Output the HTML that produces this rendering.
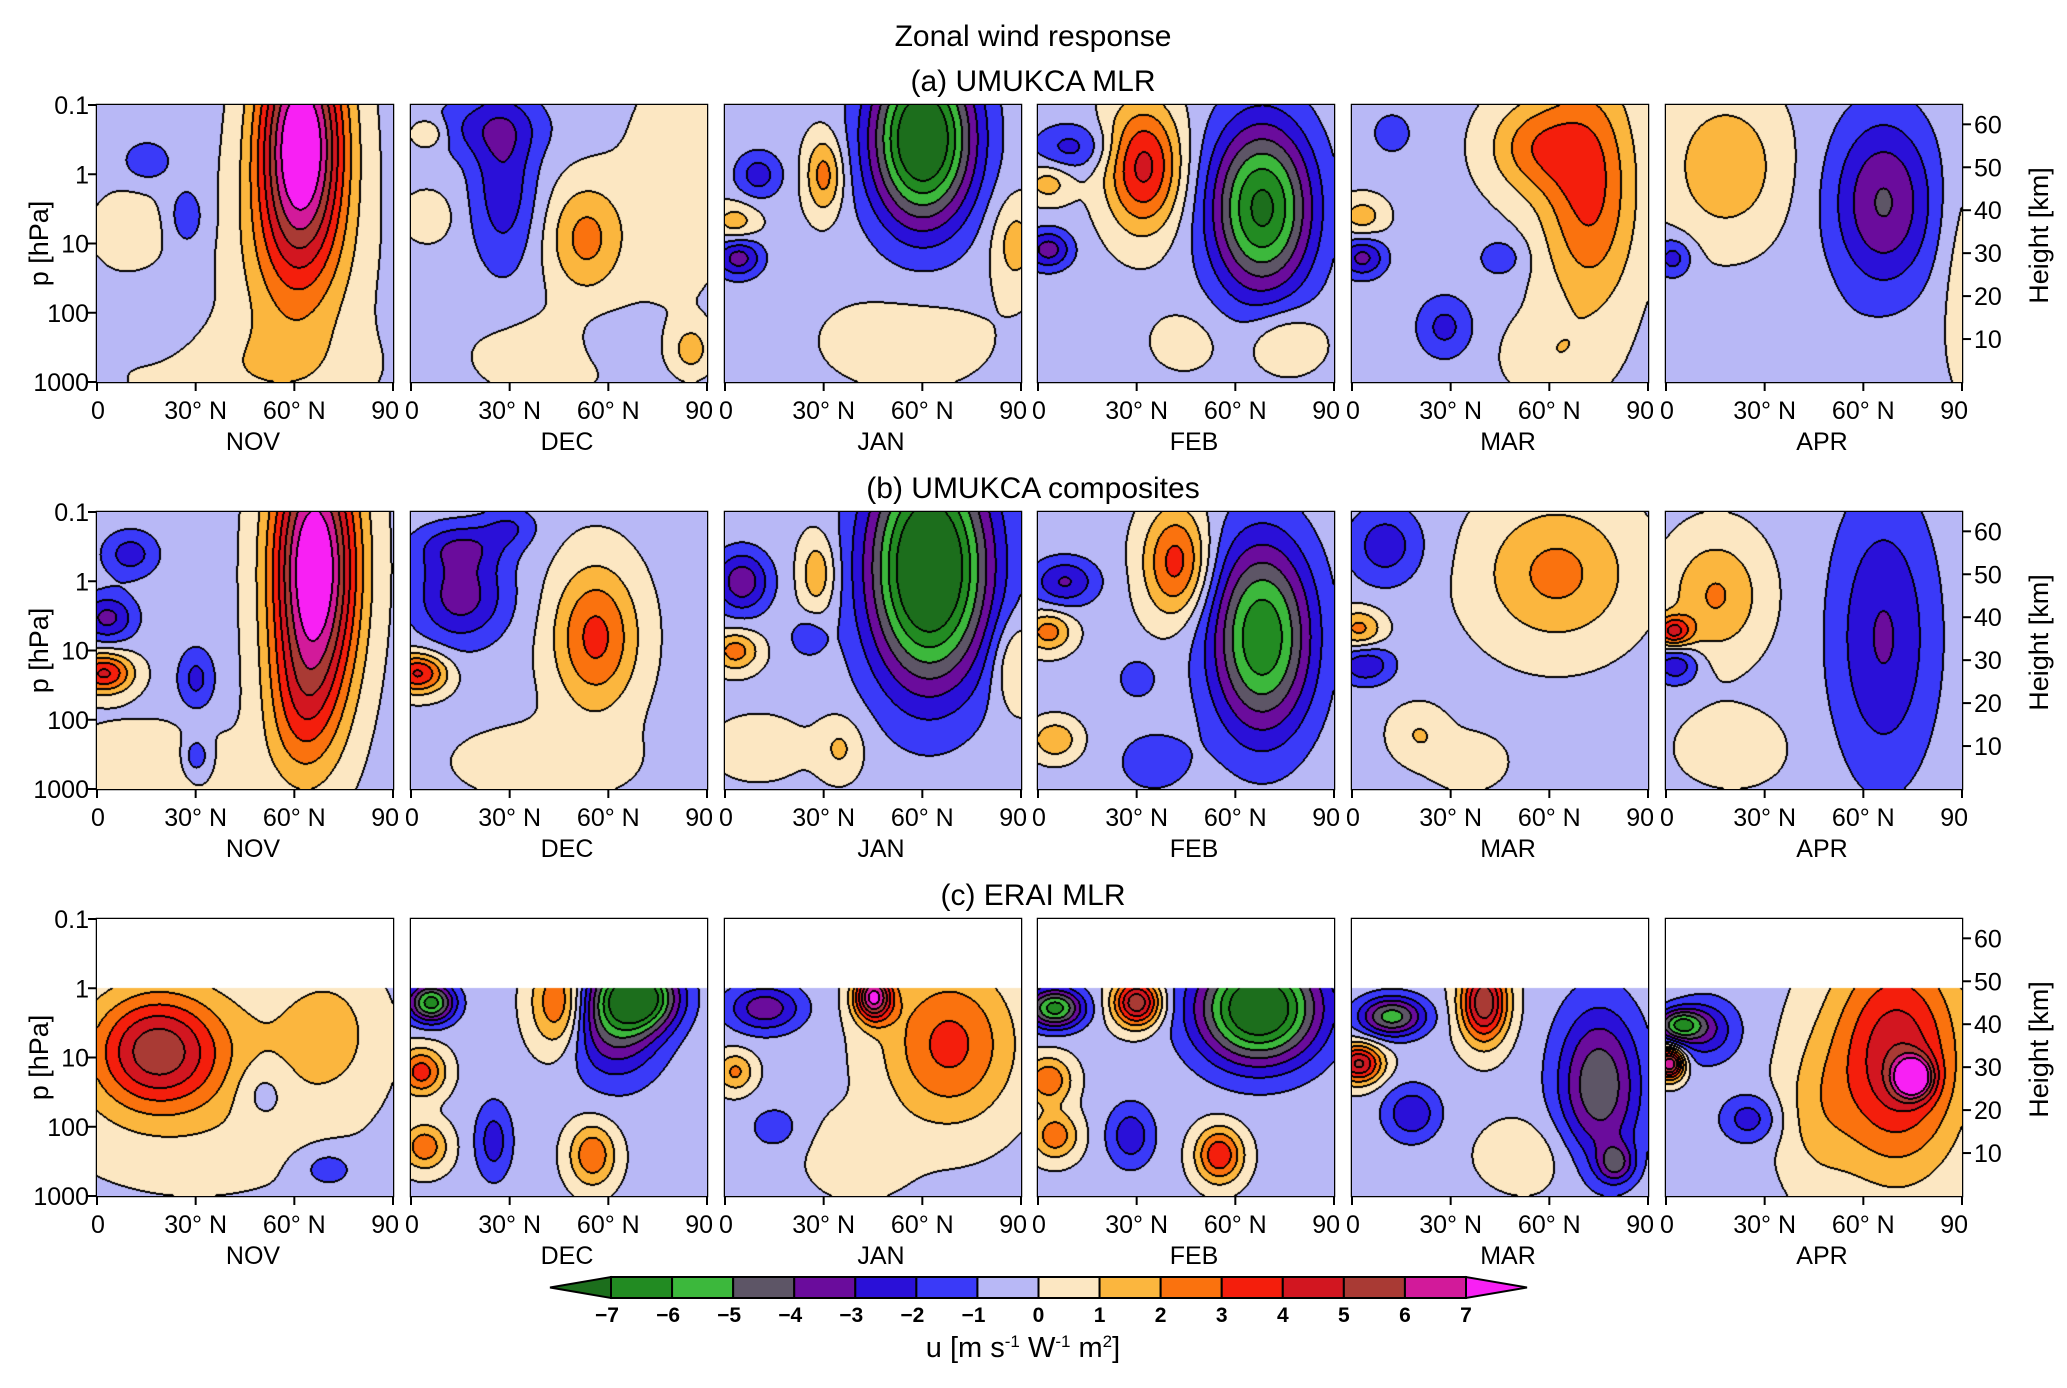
<!DOCTYPE html>
<html><head><meta charset="utf-8">
<style>
html,body{margin:0;padding:0;background:#fff;}
#fig{position:relative;width:2067px;height:1388px;overflow:hidden;background:#fff;font-family:"Liberation Sans",sans-serif;}
canvas{position:absolute;}
svg{position:absolute;left:0;top:0;}
</style></head>
<body>
<div id="fig">
<svg id="ov" width="2067" height="1388"></svg>
</div>
<script>
// ---- data ----
const months = ["NOV","DEC","JAN","FEB","MAR","APR"];
const rowTitles = ["(a) UMUKCA MLR","(b) UMUKCA composites","(c) ERAI MLR"];
const pTicks = [0.1,1,10,100,1000];
const pTickLabels = ["0.1","1","10","100","1000"];
const latTicks = [0,30,60,90];
const latTickLabels = ["0","30° N","60° N","90"];
const hTicks = [10,20,30,40,50,60];
const cbLevels = [-7,-6,-5,-4,-3,-2,-1,0,1,2,3,4,5,6,7];
const cbColors = ["#1c6e1c","#228b22","#3cb83c","#5d5566","#6a0c9c","#2a10d8","#3a3af8","#b8b8f6","#fce7c2","#fbb63e","#fa720e","#f41e0c","#d21620","#a93a34","#d21a9a","#f820f4"];
const baseVals = [[-0.3,-0.3,-0.3,-0.3,-0.3,-0.3],[-0.3,-0.3,-0.3,-0.3,-0.3,-0.3],[-0.3,-0.3,-0.3,-0.3,-0.3,-0.3]];
// blobs: [lat, yfrac(0=0.1hPa,1=1000hPa), sLat, sY, amplitude]
const blobsA = [
 [[62,0.12,9,0.28,8.5],[60,0.55,12,0.25,2.2],[15,0.2,5,0.05,-1.6],[27,0.4,4,0.08,-1.4],[10,0.45,8,0.1,1.0],[45,0.95,25,0.12,1.0],[20,0.8,8,0.1,-0.6]],
 [[28,0.28,7,0.22,-2.4],[22,0.08,14,0.08,-1.6],[53,0.48,8,0.14,2.6],[5,0.1,4,0.04,1.8],[85,0.88,4,0.06,1.8],[5,0.4,5,0.06,1.2],[80,0.3,12,0.3,0.8],[40,0.9,15,0.1,0.9],[60,0.85,6,0.06,-0.8]],
 [[60,0.12,11,0.22,-8.5],[30,0.25,4,0.1,2.8],[3,0.42,5,0.05,1.8],[88,0.5,5,0.12,1.8],[4,0.55,5,0.05,-3.2],[10,0.25,5,0.06,-2.2],[55,0.85,18,0.12,0.9]],
 [[32,0.22,8,0.16,4.6],[68,0.37,11,0.22,-7],[3,0.28,5,0.05,1.8],[3,0.52,5,0.05,-3.2],[10,0.15,8,0.06,-2.0],[75,0.85,8,0.08,1.6],[45,0.85,8,0.08,0.8]],
 [[72,0.3,10,0.3,3.6],[55,0.15,10,0.12,2.6],[12,0.1,4,0.05,-1.6],[3,0.4,5,0.05,1.8],[3,0.55,5,0.05,-3],[28,0.8,6,0.08,-2],[45,0.55,5,0.05,-1.4],[60,0.9,10,0.1,1]],
 [[66,0.35,11,0.22,-3.8],[18,0.22,12,0.18,2.2],[2,0.55,4,0.05,-2.2],[90,0.6,5,0.3,0.9],[40,0.85,12,0.1,-0.6]]
];
const blobsB = [
 [[66,0.2,9,0.34,8.8],[62,0.72,8,0.2,2],[2,0.58,6,0.05,4.5],[3,0.38,6,0.06,-3],[10,0.15,6,0.06,-2.2],[30,0.6,4,0.08,-2],[30,0.88,3,0.05,-2],[15,0.9,20,0.1,1]],
 [[56,0.45,9,0.18,3.6],[15,0.3,10,0.12,-3.2],[2,0.58,6,0.05,4.5],[15,0.12,10,0.06,-2],[30,0.05,6,0.05,-1.5],[40,0.9,20,0.1,0.8]],
 [[62,0.2,13,0.3,-9],[28,0.22,4,0.1,2.2],[3,0.5,5,0.05,2.8],[88,0.55,5,0.12,1.8],[5,0.25,6,0.08,-3.4],[35,0.85,5,0.08,1.5],[10,0.85,10,0.08,1],[25,0.45,4,0.05,-1.4]],
 [[68,0.45,11,0.25,-6.6],[42,0.18,7,0.14,3.8],[3,0.43,5,0.05,2.8],[8,0.25,7,0.06,-2.8],[5,0.82,5,0.05,2.2],[35,0.9,8,0.08,-1.4],[30,0.6,4,0.05,-1.5]],
 [[62,0.22,16,0.18,2.6],[10,0.12,8,0.1,-2.3],[2,0.42,5,0.05,2.6],[4,0.55,6,0.05,-2.6],[20,0.8,6,0.07,1.3],[35,0.9,8,0.07,1]],
 [[66,0.45,11,0.35,-2.8],[15,0.3,10,0.15,2.4],[2,0.43,4,0.04,4.2],[3,0.55,5,0.05,-2.6],[20,0.85,12,0.1,0.9]]
];
const blobsC = [
 [[18,0.47,13,0.14,4.8],[30,0.55,30,0.25,1.5],[50,0.62,6,0.08,-1.2],[70,0.4,10,0.15,1.5],[70,0.9,6,0.05,-1.4]],
 [[45,0.3,6,0.12,3.8],[62,0.35,10,0.15,-4.5],[70,0.28,8,0.08,-6],[6,0.3,5,0.05,-6.2],[3,0.55,5,0.06,3.8],[4,0.82,5,0.06,3],[25,0.8,4,0.1,-2.2],[55,0.85,5,0.08,3.2]],
 [[68,0.45,14,0.2,3.6],[45,0.28,4,0.06,7.2],[12,0.32,8,0.06,-3.4],[3,0.55,4,0.05,2.5],[40,0.85,10,0.1,1.2],[15,0.75,6,0.06,-1.2]],
 [[67,0.32,13,0.14,-8.5],[30,0.3,5,0.06,6.2],[5,0.32,6,0.05,-6.2],[3,0.58,5,0.06,3.2],[5,0.78,5,0.06,3],[55,0.85,5,0.07,4.2],[28,0.78,5,0.08,-2.4]],
 [[75,0.6,9,0.2,-4.6],[40,0.3,5,0.1,6.2],[12,0.35,7,0.05,-5.2],[2,0.52,5,0.05,5.5],[18,0.7,6,0.07,-2.6],[80,0.88,4,0.05,-3.2],[55,0.85,12,0.1,1]],
 [[70,0.5,14,0.28,5.2],[75,0.57,4,0.05,6.5],[12,0.4,7,0.08,-2.6],[1,0.52,3,0.04,7.4],[25,0.72,6,0.06,-2.2],[45,0.7,8,0.2,1.2],[4,0.38,5,0.04,-5]]
];
const allBlobs = [blobsA, blobsB, blobsC];
</script>
<script>
const fig = document.getElementById('fig');
const ov = document.getElementById('ov');
const NS = 'http://www.w3.org/2000/svg';
const rowTops = [105, 512, 919];
const PW = 296, PH = 277;
function panelLeft(i){ return 97 + i*313.8; }
function xScale(lat, left){ return left + lat/90*PW; }
function yScaleP(p, top){ return top + (Math.log10(p)+1)/4*PH; }
function yScaleH(z, top){ return top + (1 - z/64.5)*PH; }
function colorIndex(v){ let k = Math.floor(v)+8; return Math.max(0, Math.min(15, k)); }
function hexRGB(h){ return [parseInt(h.substr(1,2),16),parseInt(h.substr(3,2),16),parseInt(h.substr(5,2),16)]; }
const rgb = cbColors.map(hexRGB);

function txt(x,y,s,size,anchor,extra){
  const t=document.createElementNS(NS,'text');
  t.setAttribute('x',x); t.setAttribute('y',y);
  t.setAttribute('font-size',size); t.setAttribute('text-anchor',anchor||'middle');
  t.setAttribute('font-family','"Liberation Sans", sans-serif');
  if(extra) for(const k in extra) t.setAttribute(k, extra[k]);
  t.textContent=s; ov.appendChild(t); return t;
}
function line(x1,y1,x2,y2,w){
  const l=document.createElementNS(NS,'line');
  l.setAttribute('x1',x1);l.setAttribute('y1',y1);l.setAttribute('x2',x2);l.setAttribute('y2',y2);
  l.setAttribute('stroke','#000');l.setAttribute('stroke-width',w||2);
  ov.appendChild(l); return l;
}

let t;
t = txt(1033, 46, "Zonal wind response", 30);



for(let r=0;r<3;r++){
  const top=rowTops[r];
  t = txt(1033, top-14, rowTitles[r], 30);
  
  
  for(let i=0;i<6;i++){
    const left=Math.round(panelLeft(i));
    const cv=document.createElement('canvas');
    cv.width=PW; cv.height=PH;
    cv.style.left=left+'px'; cv.style.top=top+'px';
    
    
    fig.appendChild(cv);
    const ctx=cv.getContext('2d');
    const img=ctx.createImageData(PW,PH);
    const blobs=allBlobs[r][i];
    const base=baseVals[r][i];
    const lev=new Int8Array(PW*PH);
    const yStart = r===2 ? Math.round(0.25*PH) : 0;
    for(let y=0;y<PH;y++){
      const yf=y/PH;
      for(let x=0;x<PW;x++){
        const lat=x/PW*90;
        let v=base;
        for(const b of blobs){
          const dx=(lat-b[0])/b[2], dy=(yf-b[1])/b[3];
          v+=b[4]*Math.exp(-0.5*(dx*dx+dy*dy));
        }
        lev[y*PW+x]=colorIndex(v);
      }
    }
    for(let y=0;y<PH;y++){
      for(let x=0;x<PW;x++){
        const o=(y*PW+x)*4;
        let c;
        if(y<yStart){ c=[255,255,255]; }
        else {
          const k=lev[y*PW+x];
          let edge=false;
          if(x+1<PW && lev[y*PW+x+1]!==k) edge=true;
          if(y+1<PH && y+1>=yStart && lev[(y+1)*PW+x]!==k) edge=true;
          if(x>0 && lev[y*PW+x-1]!==k) edge=true;
          if(y>yStart && lev[(y-1)*PW+x]!==k) edge=true;
          c = edge ? [0,0,0] : rgb[k];
        }
        img.data[o]=c[0];img.data[o+1]=c[1];img.data[o+2]=c[2];img.data[o+3]=255;
      }
    }
    ctx.putImageData(img,0,0);
    const fr=document.createElementNS(NS,'rect');
    fr.setAttribute('x',left);fr.setAttribute('y',top);fr.setAttribute('width',PW);fr.setAttribute('height',PH);
    fr.setAttribute('fill','none');fr.setAttribute('stroke','#000');fr.setAttribute('stroke-width',2.5);
    
    
    ov.appendChild(fr);
    for(let k=0;k<latTicks.length;k++){
      const xx=xScale(latTicks[k],left);
      const tk=line(xx,top+PH,xx,top+PH+9,2);
      
      
      const anchor = k===0?'start':(k===3?'end':'middle');
      const lx = k===0?xx-6:(k===3?xx+6:xx);
      t=txt(lx, top+PH+37, latTickLabels[k], 25, anchor);
      
      
    }
    t=txt(left+PW/2+8, top+PH+68, months[i], 25);
    
    
    if(i===0){
      for(let k=0;k<pTicks.length;k++){
        const yy=yScaleP(pTicks[k],top);
        const tk=line(left-9,yy,left,yy,2);
        
        
        t=txt(left-8, yy+9, pTickLabels[k], 25, 'end');
        
        
      }
      t=txt(0,0,"p  [hPa]",27,'middle',{transform:`translate(48,${top+PH/2}) rotate(-90)`});
      
      
    }
    if(i===5){
      for(let k=0;k<hTicks.length;k++){
        const yy=yScaleH(hTicks[k],top);
        const tk=line(left+PW,yy,left+PW+9,yy,2);
        
        
        t=txt(left+PW+12, yy+9, String(hTicks[k]), 25, 'start');
        
        
      }
      t=txt(0,0,"Height [km]",27,'middle',{transform:`translate(2048,${top+PH/2-8}) rotate(-90)`});
      
      
    }
  }
}
const cbL=611, cbR=1466, cbT=1277, cbB=1298;
const bw=(cbR-cbL)/(cbLevels.length-1);
function cbX(v){ return cbL + (v-cbLevels[0])*bw; }
const tl=document.createElementNS(NS,'polygon');
tl.setAttribute('points',`${cbL},${cbT} ${cbL},${cbB} 550,${(cbT+cbB)/2}`);
tl.setAttribute('fill',cbColors[0]);tl.setAttribute('stroke','#000');tl.setAttribute('stroke-width',2);


ov.appendChild(tl);
const tr=document.createElementNS(NS,'polygon');
tr.setAttribute('points',`${cbR},${cbT} ${cbR},${cbB} 1527,${(cbT+cbB)/2}`);
tr.setAttribute('fill',cbColors[15]);tr.setAttribute('stroke','#000');tr.setAttribute('stroke-width',2);


ov.appendChild(tr);
for(let k=0;k<cbLevels.length-1;k++){
  const rc=document.createElementNS(NS,'rect');
  rc.setAttribute('x',cbX(cbLevels[k]));rc.setAttribute('y',cbT);
  rc.setAttribute('width',bw);rc.setAttribute('height',cbB-cbT);
  rc.setAttribute('fill',cbColors[k+1]);rc.setAttribute('stroke','#000');rc.setAttribute('stroke-width',2);
  
  
  ov.appendChild(rc);
}
for(let k=0;k<cbLevels.length;k++){
  const v=cbLevels[k];
  t=txt(cbX(v)-(v<0?4:0), 1322, (v<0?'\u2212':'')+Math.abs(v), 21, 'middle', {'font-weight':'bold'});
  
  
}
t=document.createElementNS(NS,'text');
t.setAttribute('x',1023);t.setAttribute('y',1357);t.setAttribute('text-anchor','middle');
t.setAttribute('font-size',29);t.setAttribute('font-family','"Liberation Sans", sans-serif');
t.innerHTML='u [m s<tspan dy="-10" font-size="17">-1</tspan><tspan dy="10"> W</tspan><tspan dy="-10" font-size="17">-1</tspan><tspan dy="10"> m</tspan><tspan dy="-10" font-size="17">2</tspan><tspan dy="10">]</tspan>';


ov.appendChild(t);
</script>
</body></html>
